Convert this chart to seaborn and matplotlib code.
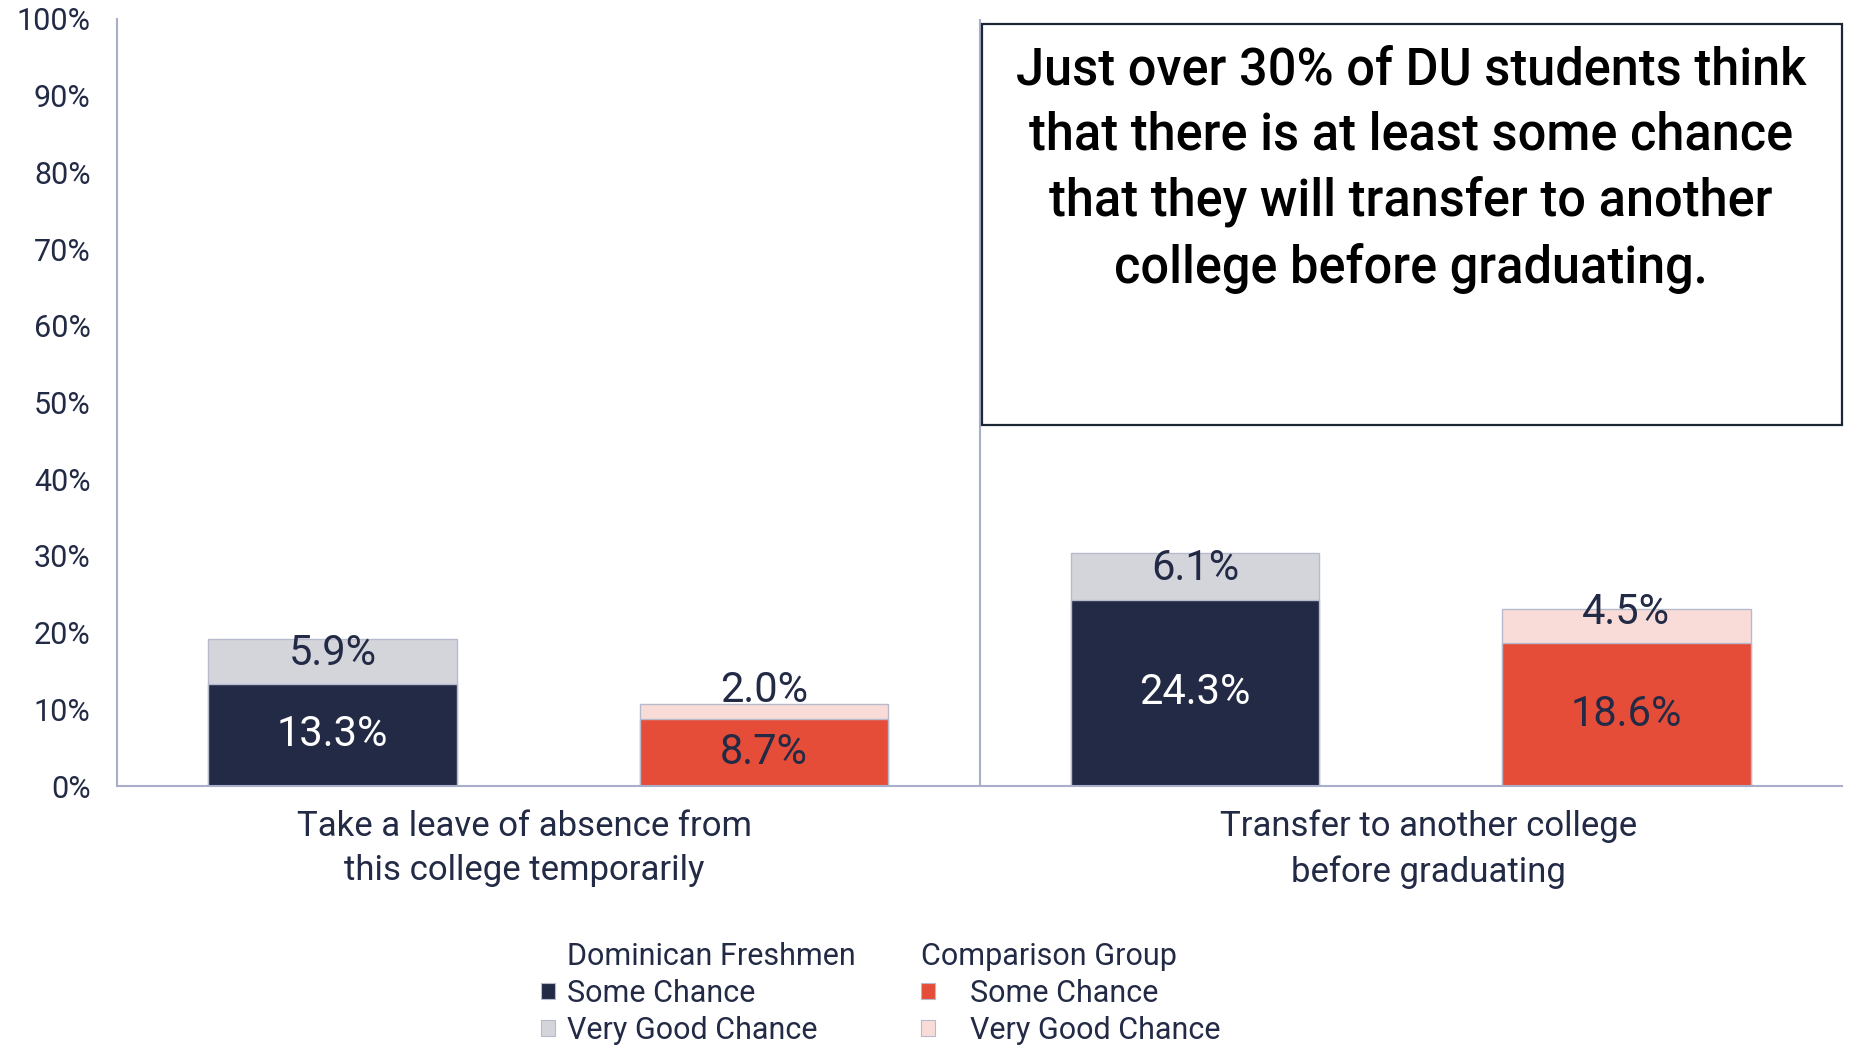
import matplotlib
matplotlib.use("Agg")
import matplotlib.pyplot as plt
from matplotlib.patches import Rectangle
from matplotlib.ticker import PercentFormatter
from matplotlib.transforms import ScaledTranslation
import seaborn as sns
import pandas as pd

# ---- data ----
categories = ["Take a leave of absence from\nthis college temporarily",
              "Transfer to another college\nbefore graduating"]
groups = ["Dominican Freshmen", "Comparison Group"]
some_chance_du = [13.3, 24.3]
very_good_du = [5.9, 6.1]
some_chance_cmp = [8.7, 18.6]
very_good_cmp = [2.0, 4.5]
y_ticks = [0, 10, 20, 30, 40, 50, 60, 70, 80, 90, 100]
legend_labels = ["Some Chance", "Very Good Chance"]
callout = ("Just over 30% of DU students think\nthat there is at least some chance\n"
           "that they will transfer to another\ncollege before graduating.")

rows = []
for i, cat in enumerate(categories):
    rows.append(dict(category=cat, group=groups[0], some=some_chance_du[i],
                     vgood=very_good_du[i]))
    rows.append(dict(category=cat, group=groups[1], some=some_chance_cmp[i],
                     vgood=very_good_cmp[i]))
df = pd.DataFrame(rows)
df["total"] = df["some"] + df["vgood"]

# ---- style ----
NAVY = "#222A45"
RED = "#E54D38"
GRAY = "#D4D5DB"
PINK = "#F9DCD8"
EDGE = "#B7BACD"
SPINE = "#A9AECB"
TXT = "#222A45"

sns.set_theme(style="white")
plt.rcParams["font.family"] = ["Roboto", "DejaVu Sans"]

fig = plt.figure(figsize=(18.52, 10.48), dpi=100)
ax = fig.add_axes([117 / 1852, 1 - 786 / 1048, (1842 - 117) / 1852, (786 - 19) / 1048])

common = dict(data=df, x="category", hue="group", hue_order=groups, width=1.0,
              gap=0.424, edgecolor=EDGE, linewidth=1.0, legend=False, ax=ax,
              saturation=1.0, errorbar=None)
sns.barplot(y="total", palette=[GRAY, PINK], **common)
sns.barplot(y="some", palette=[NAVY, RED], **common)

ax.set_ylim(0, 100)
ax.set_xlim(-0.5, 1.5)
ax.set_yticks(y_ticks)
ax.yaxis.set_major_formatter(PercentFormatter(decimals=0))
ax.set_xlabel("")
ax.set_ylabel("")
ax.tick_params(axis="y", length=0, pad=19, labelsize=22, labelcolor=TXT)
ax.tick_params(axis="x", length=0, pad=17, labelsize=25, labelcolor=TXT)
xshift_px = [-24, 18]
for lab, dx in zip(ax.get_xticklabels(), xshift_px):
    lab.set_linespacing(1.44)
    lab.set_transform(lab.get_transform() + ScaledTranslation(dx / 100, 0, fig.dpi_scale_trans))
for s in ["top", "right"]:
    ax.spines[s].set_visible(False)
for s in ["left", "bottom"]:
    ax.spines[s].set_color(SPINE)
    ax.spines[s].set_linewidth(1.5)
ax.axvline(0.5, color=SPINE, lw=1.5, zorder=0)

# ---- data labels ----
# containers: 0 DU totals, 1 CMP totals, 2 DU some, 3 CMP some
top_offsets = {(0, 0): -15, (0, 1): -16, (1, 0): 13, (1, 1): -4}  # px nudges
for gi in range(2):
    vg = [very_good_du, very_good_cmp][gi]
    sc = [some_chance_du, some_chance_cmp][gi]
    for ci, bar in enumerate(ax.containers[gi]):
        xc = bar.get_x() + bar.get_width() / 2
        top = bar.get_height()
        ax.annotate(f"{vg[ci]:.1f}%", (xc, top), xytext=(0, top_offsets[(gi, ci)]),
                    textcoords="offset pixels", ha="center", va="center",
                    fontsize=30, color=TXT)
    for ci, bar in enumerate(ax.containers[gi + 2]):
        xc = bar.get_x() + bar.get_width() / 2
        ax.text(xc, bar.get_height() / 2, f"{sc[ci]:.1f}%", ha="center", va="center",
                fontsize=30, color="white" if gi == 0 else TXT)

# ---- callout box ----
box = Rectangle((0.503, 47.1), 1.5 - 0.503, 99.3 - 47.1, fill=False,
                edgecolor="#1C2635", lw=1.6, clip_on=False, zorder=5)
ax.add_patch(box)
ax.text(1.0, 96.6, callout, ha="center", va="top", fontsize=36.4, color="black",
        linespacing=1.39, fontweight="medium", zorder=6)

# ---- legend ----
blank = Rectangle((0, 0), 1, 1, fc="none", ec="none")
h_du = [blank, Rectangle((0, 0), 1, 1, fc=NAVY, ec=EDGE, lw=0.8),
        Rectangle((0, 0), 1, 1, fc=GRAY, ec=EDGE, lw=0.8)]
h_cmp = [Rectangle((0, 0), 1, 1, fc=RED, ec=EDGE, lw=0.8),
         Rectangle((0, 0), 1, 1, fc=PINK, ec=EDGE, lw=0.8)]
leg_kw = dict(loc="upper left", frameon=False, fontsize=22, labelcolor=TXT,
              handlelength=0.46, handleheight=0.46, labelspacing=0.26,
              borderpad=0, borderaxespad=0)
leg1 = fig.legend(h_du, [groups[0]] + legend_labels,
                  bbox_to_anchor=(541 / 1852, 1 - 942 / 1048), handletextpad=0.4,
                  **leg_kw)
leg2 = fig.legend(h_cmp, legend_labels, title=groups[1], alignment="left",
                  title_fontsize=22, bbox_to_anchor=(921 / 1852, 1 - 942 / 1048),
                  handletextpad=1.15, **leg_kw)
leg2.get_title().set_color(TXT)

fig.savefig("out.png", dpi=100)
